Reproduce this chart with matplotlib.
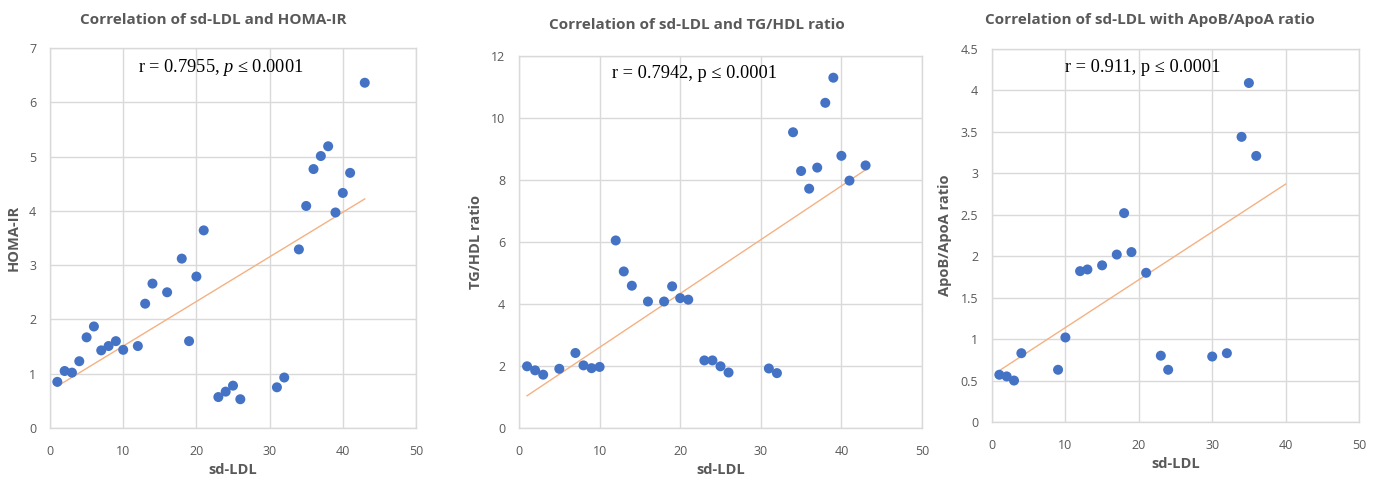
import matplotlib
matplotlib.use("Agg")
import matplotlib.pyplot as plt

plt.rcParams["mathtext.fontset"] = "custom"
plt.rcParams["mathtext.rm"] = "Liberation Serif"
plt.rcParams["mathtext.it"] = "Liberation Serif:italic"

# ---- data ----
x_homa = [1, 2, 3, 4, 5, 6, 7, 8, 9, 10, 12, 13, 14, 16, 18, 19, 20, 21, 23, 24, 25, 26, 31, 32, 34, 35, 36, 37, 38, 39, 40, 41, 43]
y_homa = [0.85, 1.05, 1.02, 1.23, 1.67, 1.87, 1.43, 1.51, 1.60, 1.44, 1.51, 2.29, 2.66, 2.50, 3.12, 1.60, 2.79, 3.64,
          0.57, 0.67, 0.78, 0.53, 0.75, 0.93, 3.29, 4.09, 4.77, 5.01, 5.19, 3.97, 4.33, 4.70, 6.36]
trend_homa_x = [1, 43]
trend_homa_y = [0.77, 4.22]

x_tg = [1, 2, 3, 5, 7, 8, 9, 10, 12, 13, 14, 16, 18, 19, 20, 21, 23, 24, 25, 26, 31, 32, 34, 35, 36, 37, 38, 39, 40, 41, 43]
y_tg = [1.99, 1.86, 1.72, 1.91, 2.42, 2.02, 1.93, 1.97, 6.05, 5.05, 4.59, 4.08, 4.08, 4.57, 4.19, 4.14,
        2.18, 2.18, 1.99, 1.79, 1.92, 1.77, 9.54, 8.29, 7.72, 8.40, 10.49, 11.30, 8.78, 7.98, 8.47]
trend_tg_x = [1, 43]
trend_tg_y = [1.04, 8.33]

x_apo = [1, 2, 3, 4, 9, 10, 12, 13, 15, 17, 18, 19, 21, 23, 24, 30, 32, 34, 35, 36]
y_apo = [0.57, 0.55, 0.50, 0.83, 0.63, 1.02, 1.82, 1.84, 1.89, 2.02, 2.52, 2.05, 1.80, 0.80, 0.63, 0.79, 0.83, 3.44, 4.09, 3.21]
trend_apo_x = [1, 40]
trend_apo_y = [0.62, 2.87]

titles = ["Correlation of sd-LDL and HOMA-IR",
          "Correlation of sd-LDL and TG/HDL ratio",
          "Correlation of sd-LDL with ApoB/ApoA ratio"]
ylabels = ["HOMA-IR", "TG/HDL ratio", "ApoB/ApoA ratio"]
xlabel = "sd-LDL"
annots = [r"r = 0.7955, $\it{p}$ ≤ 0.0001", "r = 0.7942, p ≤ 0.0001", "r = 0.911, p ≤ 0.0001"]
yticks = [[0, 1, 2, 3, 4, 5, 6, 7],
          [0, 2, 4, 6, 8, 10, 12],
          [0, 0.5, 1, 1.5, 2, 2.5, 3, 3.5, 4, 4.5]]
ytick_labels = [["0", "1", "2", "3", "4", "5", "6", "7"],
                ["0", "2", "4", "6", "8", "10", "12"],
                ["0", "0.5", "1", "1.5", "2", "2.5", "3", "3.5", "4", "4.5"]]
xticks = [0, 10, 20, 30, 40, 50]

# ---- style ----
W, H = 1383, 480
fig = plt.figure(figsize=(W / 100, H / 100), dpi=100)
fig.patch.set_facecolor("white")

GRAY_TXT = "#595959"
GRID = "#D9D9D9"
BLUE = "#4472C4"
TREND = "#F4B183"
FONT = ["Open Sans", "DejaVu Sans"]

# axes boxes in pixels: left, right, top, bottom
boxes = [(50, 416, 48, 428), (519, 922, 56, 428), (992, 1359, 49, 422)]
title_pos = [(213, 20), (697, 25), (1150, 20)]
annot_pos = [(12.0, 6.65), (11.5, 11.45), (9.95, 4.28)]

series = [(x_homa, y_homa, trend_homa_x, trend_homa_y),
          (x_tg, y_tg, trend_tg_x, trend_tg_y),
          (x_apo, y_apo, trend_apo_x, trend_apo_y)]

for i, (l, r, t, b) in enumerate(boxes):
    ax = fig.add_axes([l / W, 1 - b / H, (r - l) / W, (b - t) / H])
    xs, ys, tx, ty = series[i]
    ax.plot(tx, ty, color=TREND, lw=1.0, zorder=2)
    ax.scatter(xs, ys, s=52, color=BLUE, edgecolors="none", zorder=3)
    ax.set_xlim(0, 50)
    ax.set_ylim(yticks[i][0], yticks[i][-1])
    ax.set_xticks(xticks)
    ax.set_xticklabels([str(v) for v in xticks], color=GRAY_TXT, fontsize=9, family=FONT)
    ax.set_yticks(yticks[i])
    ax.set_yticklabels(ytick_labels[i], color=GRAY_TXT, fontsize=9, family=FONT)
    ax.tick_params(axis="x", length=0, pad=12)
    ax.tick_params(axis="y", length=0, pad=10)
    ax.grid(True, color=GRID, lw=1.0, zorder=0)
    ax.set_axisbelow(True)
    for s in ax.spines.values():
        s.set_color(GRID)
        s.set_linewidth(1.0)
    ax.set_xlabel(xlabel, color=GRAY_TXT, fontsize=10.5, fontweight="bold", family=FONT, labelpad=4)
    ax.set_ylabel(ylabels[i], color=GRAY_TXT, fontsize=10.5, fontweight="bold", family=FONT, labelpad=6)
    ax.text(annot_pos[i][0], annot_pos[i][1], annots[i], ha="left", va="center",
            fontsize=13.2, family=["Liberation Serif", "DejaVu Serif"], color="black")
    fig.text(title_pos[i][0] / W, 1 - title_pos[i][1] / H, titles[i], ha="center", va="center",
             color=GRAY_TXT, fontsize=11, fontweight="bold", family=FONT)

fig.savefig("out.png", dpi=100, facecolor="white")
